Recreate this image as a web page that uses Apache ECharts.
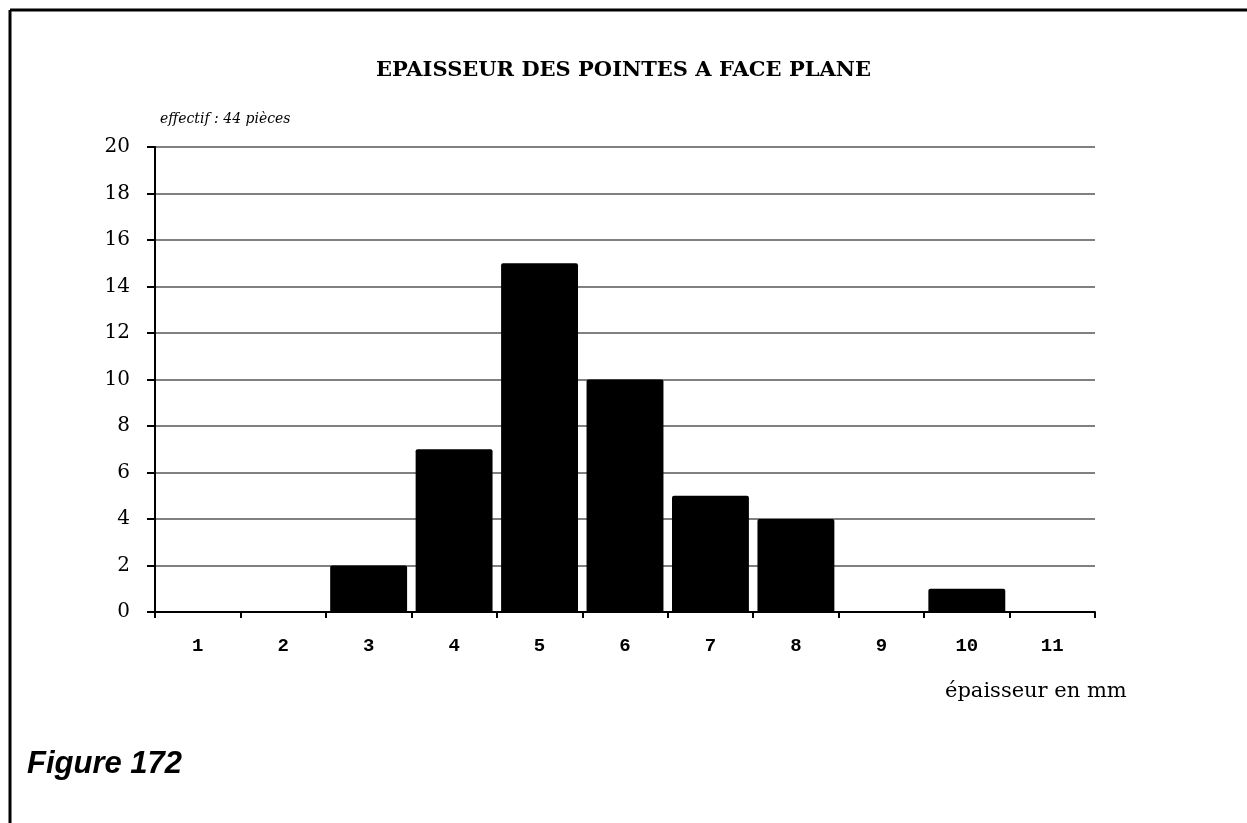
<!DOCTYPE html>
<html>
<head>
<meta charset="utf-8">
<script src="https://cdn.jsdelivr.net/npm/echarts@6/dist/echarts.min.js"></script>
<style>html,body{margin:0;padding:0;background:#fff;}#c{width:1247px;height:823px;}</style>
</head>
<body>
<div id="c"></div>
<script>
const categories = ['1','2','3','4','5','6','7','8','9','10','11'];
const counts = [0, 0, 2, 7, 15, 10, 5, 4, 0, 1, 0];
const yTicks = [0, 2, 4, 6, 8, 10, 12, 14, 16, 18, 20];

const serif = '"DejaVu Serif", "Liberation Serif", serif';
const chart = echarts.init(document.getElementById('c'), null, {renderer: 'canvas'});
chart.setOption({
  backgroundColor: '#fff',
  animation: false,
  title: {
    text: 'EPAISSEUR DES POINTES A FACE PLANE',
    left: 'center', top: 55,
    textStyle: {fontFamily: serif, fontWeight: 'bold', fontSize: 21, color: '#000'}
  },
  graphic: [
    {type: 'line', shape: {x1: 10, y1: 10, x2: 1247, y2: 10}, style: {stroke: '#000', lineWidth: 3}},
    {type: 'line', shape: {x1: 10, y1: 10, x2: 10, y2: 823}, style: {stroke: '#000', lineWidth: 3}},
    {type: 'text', left: 160, top: 112, style: {text: 'effectif : 44 pièces', font: 'italic 14px ' + serif, fill: '#000'}},
    {type: 'text', left: 945, top: 681, style: {text: 'épaisseur en mm', font: '21px ' + serif, fill: '#000'}},
    {type: 'text', left: 27, top: 749, style: {text: 'Figure 172', font: 'italic bold 31px "Liberation Sans", Arial, sans-serif', fill: '#000'}}
  ],
  grid: {left: 155, right: 152, top: 147, bottom: 211, containLabel: false},
  xAxis: {
    type: 'category',
    data: categories,
    boundaryGap: true,
    axisLine: {lineStyle: {color: '#000', width: 2}},
    axisTick: {show: true, alignWithLabel: false, length: 6, lineStyle: {color: '#000', width: 2}},
    axisLabel: {margin: 25, fontFamily: '"Liberation Mono", "DejaVu Sans Mono", monospace', fontWeight: 'bold', fontSize: 19, color: '#000'},
    splitLine: {show: false}
  },
  yAxis: {
    type: 'value',
    min: 0, max: 20, interval: 2,
    axisLine: {show: true, lineStyle: {color: '#000', width: 2}},
    axisTick: {show: true, length: 8, lineStyle: {color: '#000', width: 2}},
    axisLabel: {margin: 25, fontFamily: serif, fontSize: 20, color: '#000',
      formatter: v => yTicks.indexOf(v) >= 0 ? String(v) : ''},
    splitLine: {show: true, lineStyle: {color: '#808080', width: 2}}
  },
  series: [{
    type: 'bar',
    data: counts,
    barCategoryGap: '10%',
    itemStyle: {color: '#000', borderRadius: [2, 2, 0, 0]},
    z: 3
  }]
});
</script>
</body>
</html>
